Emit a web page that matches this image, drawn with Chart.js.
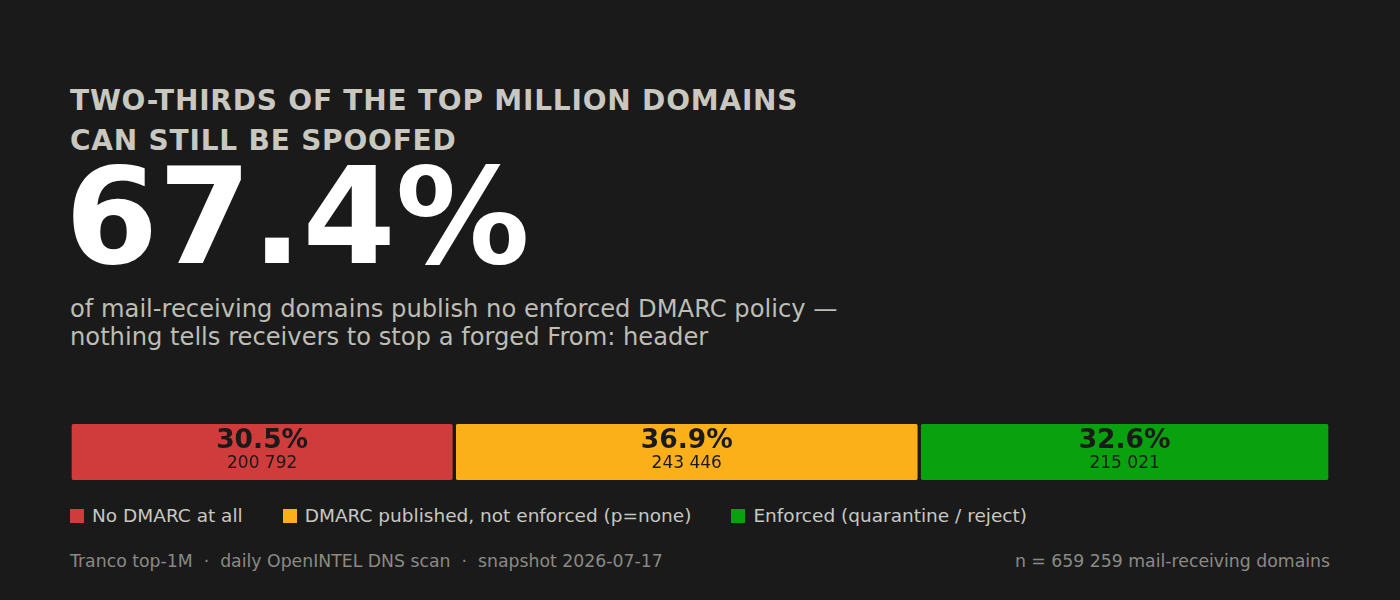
<!DOCTYPE html>
<html><head><meta charset="utf-8">
<script src="https://cdn.jsdelivr.net/npm/chart.js@4"></script>
<style>
body{margin:0;width:1400px;height:600px;background:#1a1a1a;font-family:"DejaVu Sans",sans-serif;position:relative;overflow:hidden}
.a{position:absolute;left:70px;white-space:nowrap}
#t{top:81px;font-size:28px;font-weight:bold;color:#c8c8c0;line-height:40px;letter-spacing:0.8px}
#big{top:145px;font-size:134px;font-weight:bold;color:#fff;line-height:144px;left:65px}
#sub{top:295px;font-size:24.2px;color:#bdbdb5;line-height:28px}
#wrap{position:absolute;left:70px;top:424px;width:1260px;height:56px}
#leg{top:505px;font-size:18.5px;color:#c8c8c0;display:flex;gap:40px}
#leg span i{display:inline-block;width:14px;height:14px;margin-right:8px;vertical-align:-1px}
.f{top:551px;font-size:17.3px;color:#8a8a85}
</style></head><body>
<div class="a" id="t">TWO-THIRDS OF THE TOP MILLION DOMAINS<br>CAN STILL BE SPOOFED</div>
<div class="a" id="big">67.4%</div>
<div class="a" id="sub">of mail-receiving domains publish no enforced DMARC policy —<br>nothing tells receivers to stop a forged From: header</div>
<div id="wrap"><canvas id="c"></canvas></div>
<div class="a" id="leg"></div>
<div class="a f">Tranco top-1M &nbsp;·&nbsp; daily OpenINTEL DNS scan &nbsp;·&nbsp; snapshot 2026-07-17</div>
<div class="a f" style="left:auto;right:70px">n = 659 259 mail-receiving domains</div>
<script>
const categories=["No DMARC at all","DMARC published, not enforced (p=none)","Enforced (quarantine / reject)"];
const shares=[30.5,36.9,32.6];
const counts=["200 792","243 446","215 021"];
const colors=["#d03c3c","#fbb01a","#0aa10e"];
document.getElementById('leg').innerHTML=categories.map((c,i)=>`<span><i style="background:${colors[i]}"></i>${c}</span>`).join('');
let acc=0;const ranges=shares.map(s=>{const r=[acc,acc+s];acc+=s;return r;});
const labels={id:'lab',afterDatasetsDraw(ch){const ctx=ch.ctx;ch.data.datasets.forEach((d,i)=>{const el=ch.getDatasetMeta(i).data[0];const x=(el.x+el.base)/2,y=el.y;ctx.save();ctx.fillStyle='#1a1a1a';ctx.textAlign='center';ctx.textBaseline='middle';ctx.font='bold 26.5px "DejaVu Sans"';ctx.fillText(shares[i].toFixed(1)+'%',x,y-11);ctx.font='17px "DejaVu Sans"';ctx.fillText(counts[i],x,y+12);ctx.restore();});}};
new Chart(document.getElementById('c'),{type:'bar',data:{labels:[''],datasets:categories.map((c,i)=>({label:c,data:[ranges[i]],backgroundColor:colors[i],borderColor:'#1a1a1a',borderWidth:{left:2,right:2,top:0,bottom:0},borderSkipped:false,borderRadius:4,grouped:false,barPercentage:1,categoryPercentage:1}))},
options:{indexAxis:'y',responsive:true,maintainAspectRatio:false,animation:false,layout:{padding:{left:-2,right:-2}},plugins:{legend:{display:false},tooltip:{enabled:false}},scales:{x:{min:0,max:100,display:false},y:{display:false}}},plugins:[labels]});
</script></body></html>
